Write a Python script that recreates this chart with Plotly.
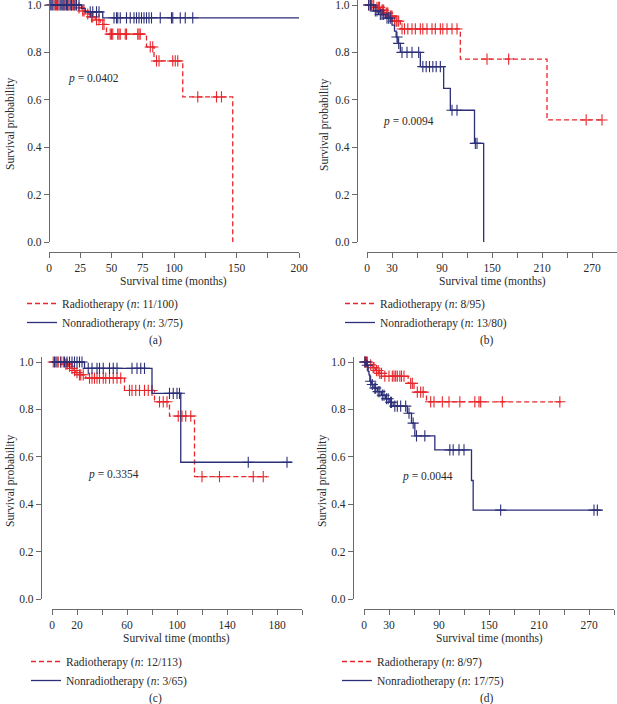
import numpy as np
import plotly.graph_objects as go

# ---- data (months, survival probability) ----
# (a)
a_rad_event_t = [22, 26, 29, 33, 37, 41, 46, 78, 84, 107, 147]
a_rad_surv = [0.988, 0.975, 0.962, 0.95, 0.937, 0.918, 0.877, 0.823, 0.764, 0.612, 0.0]
a_rad_cens = [2, 4, 6, 8, 10, 12, 13, 15, 16, 18, 19, 20, 21, 24, 27, 28, 31, 34, 35, 38, 40,
              43, 44, 49, 50, 51, 55, 56, 57, 61, 62, 71, 72, 73, 81, 83, 86, 88, 99, 101, 103,
              119, 134, 138]
a_rad_end = 147
a_non_event_t = [26, 29, 43]
a_non_surv = [0.986, 0.971, 0.946]
a_non_cens = [1, 3, 5, 7, 9, 11, 12, 14, 15, 17, 18, 20, 22, 24, 33, 35, 38, 40, 52, 54, 55, 57,
              62, 65, 68, 70, 72, 74, 76, 78, 80, 82, 89, 98, 99, 105, 109, 115]
a_non_end = 204

# (b)
b_rad_event_t = [10, 16, 21, 26, 31, 40, 112, 216]
b_rad_surv = [0.99, 0.978, 0.966, 0.953, 0.932, 0.899, 0.772, 0.515]
b_rad_cens = [2, 4, 6, 8, 12, 14, 15, 18, 19, 20, 23, 24, 25, 28, 29, 30, 33, 35, 36, 38, 42, 45,
              49, 54, 58, 64, 67, 72, 78, 82, 88, 91, 96, 102, 108, 144, 170, 263, 282]
b_rad_end = 282
b_non_event_t = [8, 14, 22, 30, 33, 35, 37, 40, 64, 92, 100, 129, 140]
b_non_surv = [0.975, 0.96, 0.945, 0.915, 0.89, 0.865, 0.838, 0.80, 0.74, 0.648, 0.556, 0.416, 0.0]
b_non_cens = [2, 4, 5, 10, 12, 16, 18, 20, 24, 26, 28, 36, 38, 42, 48, 54, 62, 67, 71, 75, 79, 83,
              88, 102, 108, 130, 132]
b_non_end = 140

# (c)
c_rad_event_t = [10, 13, 15, 17, 19, 21, 27, 58, 82, 94, 114]
c_rad_surv = [0.991, 0.982, 0.973, 0.964, 0.955, 0.946, 0.932, 0.88, 0.832, 0.772, 0.516]
c_rad_cens = [1, 3, 5, 7, 9, 11, 12, 14, 16, 18, 20, 22, 23, 25, 30, 32, 34, 36, 38, 41, 43, 46,
              49, 52, 55, 62, 64, 67, 70, 74, 77, 80, 86, 89, 92, 101, 104, 107, 111, 120, 134,
              161, 169]
c_rad_end = 172
c_non_event_t = [26, 80, 103]
c_non_surv = [0.973, 0.868, 0.577]
c_non_cens = [2, 4, 7, 10, 12, 14, 16, 18, 20, 22, 24, 29, 32, 36, 38, 41, 46, 49, 52, 64, 68, 71,
              74, 94, 97, 100, 102, 157, 188]
c_non_end = 192

# (d)
d_rad_event_t = [6, 10, 14, 18, 22, 53, 60, 75]
d_rad_surv = [0.988, 0.976, 0.964, 0.952, 0.94, 0.91, 0.873, 0.832]
d_rad_cens = [1, 3, 4, 8, 11, 12, 15, 17, 19, 21, 25, 30, 34, 36, 38, 40, 43, 45, 48, 56, 58, 64,
              68, 71, 80, 84, 94, 102, 115, 133, 138, 140, 166, 235]
d_rad_end = 237
d_non_event_t = [3, 5, 6, 7, 9, 12, 16, 21, 26, 31, 35, 52, 57, 61, 85, 129, 131]
d_non_surv = [0.986, 0.96, 0.946, 0.919, 0.905, 0.89, 0.875, 0.86, 0.845, 0.83, 0.814, 0.784,
              0.742, 0.688, 0.629, 0.5, 0.375]
d_non_cens = [1, 2, 4, 8, 10, 13, 14, 17, 19, 22, 24, 27, 29, 32, 33, 37, 40, 44, 50, 54, 59, 63,
              73, 103, 107, 114, 120, 164, 276, 280]
d_non_end = 285

rad_labels = ["Radiotherapy (<i>n</i>: 11/100)", "Radiotherapy (<i>n</i>: 8/95)",
              "Radiotherapy (<i>n</i>: 12/113)", "Radiotherapy (<i>n</i>: 8/97)"]
non_labels = ["Nonradiotherapy (<i>n</i>: 3/75)", "Nonradiotherapy (<i>n</i>: 13/80)",
              "Nonradiotherapy (<i>n</i>: 3/65)", "Nonradiotherapy (<i>n</i>: 17/75)"]
p_values = ["0.0402", "0.0094", "0.3354", "0.0044"]
panel_tags = ["(a)", "(b)", "(c)", "(d)"]

x_ticks = [list(range(0, 201, 25)), list(range(0, 301, 30)),
           list(range(0, 201, 20)), list(range(0, 301, 30))]
x_labels = [["0", "25", "50", "75", "100", "", "150", "", "200"],
            ["0", "30", "", "90", "", "150", "", "210", "", "270", ""],
            ["0", "20", "", "60", "", "100", "", "140", "", "180", ""],
            ["0", "30", "", "90", "", "150", "", "210", "", "270", ""]]
x_max = [200, 300, 200, 300]
y_ticks = [0, 0.2, 0.4, 0.6, 0.8, 1.0]
y_labels = ["0.0", "0.2", "0.4", "0.6", "0.8", "1.0"]

RED = "#e8262b"
NAVY = "#2b2f78"
AXIS = "#6a6a6a"
TXT = "#2a2a2a"
FONT = "Liberation Serif"
FS = 11.5
W, H = 617, 704


def km_path(event_t, surv, end):
    xs = [0] + list(event_t)
    ys = [1.0] + list(surv)
    if end > event_t[-1]:
        xs.append(end)
        ys.append(surv[-1])
    return xs, ys


def surv_at(event_t, surv, t):
    idx = np.searchsorted(np.array(event_t), np.array(t), side="right")
    vals = np.concatenate([[1.0], np.array(surv)])
    return vals[idx]


groups = [
    (a_rad_event_t, a_rad_surv, a_rad_cens, a_rad_end, a_non_event_t, a_non_surv, a_non_cens, a_non_end),
    (b_rad_event_t, b_rad_surv, b_rad_cens, b_rad_end, b_non_event_t, b_non_surv, b_non_cens, b_non_end),
    (c_rad_event_t, c_rad_surv, c_rad_cens, c_rad_end, c_non_event_t, c_non_surv, c_non_cens, c_non_end),
    (d_rad_event_t, d_rad_surv, d_rad_cens, d_rad_end, d_non_event_t, d_non_surv, d_non_cens, d_non_end),
]

# pixel layout of each panel: y-axis x, x=0 x, x-axis end x, y of 0.0, y of x-axis line
boxes = [
    dict(yax=49, x0=49, x1=299, ybot=242, xline=252, legx=22, legy=289, tagx=155, tagy=340,
         px=93, py=79, ytx=10),
    dict(yax=357, x0=367, x1=617, ybot=242, xline=252, legx=340, legy=289, tagx=487, tagy=340,
         px=408, py=121, ytx=324),
    dict(yax=41, x0=52, x1=302, ybot=599, xline=609, legx=26, legy=647, tagx=155, tagy=698,
         px=113, py=474, ytx=10),
    dict(yax=353, x0=364, x1=614, ybot=599, xline=609, legx=337, legy=647, tagx=487, tagy=698,
         px=427, py=476, ytx=322),
]

fig = go.Figure()
layout = {}
annotations = []
axis_style = dict(showline=True, linecolor=AXIS, linewidth=1.2, ticks="outside", ticklen=5,
                  tickwidth=1.1, tickcolor=AXIS, showgrid=False, zeroline=False,
                  ticklabeloverflow="allow",
                  tickfont=dict(family=FONT, size=FS, color=TXT), fixedrange=True)
note_style = dict(xref="paper", yref="paper", showarrow=False, xanchor="center",
                  yanchor="middle", font=dict(family=FONT, size=FS, color=TXT))

for i, (g, b) in enumerate(zip(groups, boxes)):
    k = "" if i == 0 else str(i + 1)
    xa, ya = "x" + k, "y" + k
    leg = "legend" + k
    r_t, r_s, r_c, r_end, n_t, n_s, n_c, n_end = g

    for et, sv, cens, end, name, color, dash in [
        (r_t, r_s, r_c, r_end, rad_labels[i], RED, "5px,3px"),
        (n_t, n_s, n_c, n_end, non_labels[i], NAVY, "solid"),
    ]:
        xs, ys = km_path(et, sv, end)
        fig.add_trace(go.Scatter(x=xs, y=ys, mode="lines", line_shape="hv", name=name,
                                 line=dict(color=color, width=1.3, dash=dash),
                                 xaxis=xa, yaxis=ya, legend=leg, hoverinfo="skip"))
        fig.add_trace(go.Scatter(x=cens, y=surv_at(et, sv, cens), mode="markers",
                                 marker=dict(symbol="cross-thin", size=8, color=color,
                                             line=dict(color=color, width=1.1)),
                                 xaxis=xa, yaxis=ya, showlegend=False, cliponaxis=False,
                                 hoverinfo="skip"))

    ybot_frac = 1 - b["ybot"] / H
    top_frac = 1 - (b["ybot"] - 242) / H
    layout["xaxis" + k] = dict(axis_style, domain=[b["x0"] / W, b["x1"] / W], range=[0, x_max[i]],
                               anchor="free", position=1 - b["xline"] / H,
                               tickvals=x_ticks[i], ticktext=x_labels[i])
    layout["yaxis" + k] = dict(axis_style, domain=[ybot_frac, top_frac], range=[0, 242 / 237],
                               anchor="free", position=b["yax"] / W,
                               tickvals=y_ticks, ticktext=y_labels)
    layout[leg] = dict(x=b["legx"] / W, y=1 - b["legy"] / H, xanchor="left", yanchor="top",
                       bgcolor="rgba(0,0,0,0)", font=dict(family=FONT, size=FS, color=TXT),
                       itemwidth=30, tracegroupgap=0)

    annotations += [
        dict(note_style, text=f"<i>p</i> = {p_values[i]}", x=b["px"] / W, y=1 - b["py"] / H),
        dict(note_style, text="Survival time (months)", x=(b["x0"] + b["x1"]) / 2 / W,
             y=1 - (b["xline"] + 29) / H),
        dict(note_style, text="Survival probability", x=b["ytx"] / W,
             y=1 - (b["ybot"] - 118) / H, textangle=-90),
        dict(note_style, text=panel_tags[i], x=b["tagx"] / W, y=1 - b["tagy"] / H),
    ]

fig.update_layout(width=W, height=H, margin=dict(l=0, r=0, t=0, b=0, autoexpand=False),
                  paper_bgcolor="white", plot_bgcolor="white",
                  annotations=annotations, **layout)
# the page's default 8px body margin would push the figure off its 617x704 frame
fig.write_html("out.html", config={"displayModeBar": False},
               post_script="document.body.style.margin = '0px';")
